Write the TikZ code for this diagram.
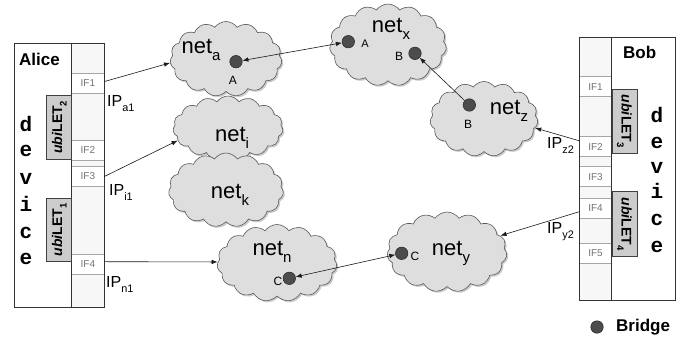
\documentclass[tikz,border=0pt]{standalone}
\usepackage{fontspec}
\setmainfont{Liberation Sans}
\newfontfamily\monob{Liberation Mono}
\usetikzlibrary{shapes.symbols,shadows,arrows.meta}
\newcommand\lsub[1]{\raisebox{-0.32em}{\scalebox{0.68}{#1}}}
\tikzset{
  cloudn/.style={cloud, cloud puffs=15, cloud puff arc=110, cloud ignores aspect,
    draw=black!65, fill=black!13, line width=0.6pt, inner sep=0pt,
    drop shadow={shadow xshift=1.6pt, shadow yshift=-1.6pt, fill=black!40}},
  netlbl/.style={font=\fontsize{22}{22}\selectfont, inner sep=0pt},
  dot/.style={circle, fill=black!70, draw=black!85, line width=0.5pt, minimum size=12.5pt, inner sep=0pt},
  small/.style={font=\fontsize{12}{12}\selectfont, inner sep=0pt},
  arr/.style={-{Latex[length=6pt,width=4.5pt]}, line width=0.6pt, black!90},
  darr/.style={{Latex[length=6pt,width=4.5pt]}-{Latex[length=6pt,width=4.5pt]}, line width=0.6pt, black!90},
  ifcell/.style={draw=black!35, fill=white, line width=0.5pt, minimum width=32.4pt, minimum height=20pt,
    inner sep=0pt, text=black!55, font=\fontsize{10}{10}\selectfont},
  devbox/.style={draw=black!80, line width=0.7pt},
  ifcol/.style={draw=black!80, fill=black!3, line width=0.7pt},
  letbox/.style={draw=black!75, fill=black!20, line width=0.6pt, inner sep=0pt, minimum height=25pt,
    font=\fontsize{14}{14}\selectfont\bfseries},
  devl/.style={font=\fontsize{21}{21}\selectfont\monob\bfseries, anchor=base, inner sep=0pt},
  iplbl/.style={font=\fontsize{16}{16}\selectfont, anchor=base west, inner sep=0pt},
  namelbl/.style={font=\fontsize{17}{17}\selectfont\bfseries, anchor=base west, inner sep=0pt}
}
\begin{document}
\begin{tikzpicture}[x=1pt,y=-1pt]
\useasboundingbox (0,0) rectangle (681,338);

% ---------------- Alice ----------------
\draw[devbox, fill=white] (14,43.3) rectangle (71.7,307);
\draw[ifcol] (71.7,43.3) rectangle (104,307);
\node[ifcell] (aif1) at (87.85,83.3) {IF1};
\node[ifcell] (aif2) at (87.85,150) {IF2};
\node[ifcell] (aif3) at (87.85,176.5) {IF3};
\node[ifcell] (aif4) at (87.85,264) {IF4};
\draw[ifcol, fill=none] (71.7,43.3) rectangle (104,307);
\node[namelbl] (alice) at (19,65) {Alice};
\node[letbox, minimum width=64.3pt, rotate=90] (ulet2) at (59.2,127.2) {\textit{ubi}LET\lsub{2}};
\node[letbox, minimum width=63.4pt, rotate=90] (ulet1) at (59.2,230) {\textit{ubi}LET\lsub{1}};
\node[devl] (ad1) at (26,131) {d};
\node[devl] (ad2) at (26,156) {e};
\node[devl] (ad3) at (26,184) {v};
\node[devl] (ad4) at (26,211) {i};
\node[devl] (ad5) at (26,238) {c};
\node[devl] (ad6) at (26,264) {e};

% ---------------- Bob ----------------
\draw[devbox, fill=white] (611.7,37.3) rectangle (675,300.7);
\draw[ifcol] (579.3,37.3) rectangle (611.7,300.7);
\node[ifcell] (bif1) at (595.5,86.7) {IF1};
\node[ifcell] (bif2) at (595.5,146.7) {IF2};
\node[ifcell] (bif3) at (595.5,176.7) {IF3};
\node[ifcell] (bif4) at (595.5,208.3) {IF4};
\node[ifcell] (bif5) at (595.5,253.3) {IF5};
\draw[ifcol, fill=none] (579.3,37.3) rectangle (611.7,300.7);
\node[namelbl] (bob) at (623,58.3) {Bob};
\node[letbox, minimum width=64pt, rotate=-90] (ulet3) at (624.5,121.3) {\textit{ubi}LET\lsub{3}};
\node[letbox, minimum width=65pt, rotate=-90] (ulet4) at (624.5,224.2) {\textit{ubi}LET\lsub{4}};
\node[devl] (bd1) at (657,122) {d};
\node[devl] (bd2) at (657,148) {e};
\node[devl] (bd3) at (657,173) {v};
\node[devl] (bd4) at (657,198) {i};
\node[devl] (bd5) at (657,225) {c};
\node[devl] (bd6) at (657,252) {e};

% ---------------- clouds ----------------
\node[cloudn, minimum width=112pt, minimum height=75pt] (na) at (226,59) {};
\node[cloudn, minimum width=117pt, minimum height=82pt] (nx) at (388,45) {};
\node[cloudn, minimum width=110pt, minimum height=64pt] (ni) at (228,128) {};
\node[cloudn, minimum width=115pt, minimum height=74pt] (nk) at (226,190) {};
\node[cloudn, minimum width=120pt, minimum height=77pt] (nn) at (277,263) {};
\node[cloudn, minimum width=120pt, minimum height=80pt] (ny) at (447,252) {};
\node[cloudn, minimum width=108pt, minimum height=75pt] (nz) at (484,119) {};

\node[netlbl] (lna) at (201,50) {net\lsub{a}};
\node[netlbl] (lnx) at (391,29) {net\lsub{x}};
\node[netlbl] (lni) at (232,138) {net\lsub{i}};
\node[netlbl] (lnk) at (230,195) {net\lsub{k}};
\node[netlbl] (lnn) at (272,252) {net\lsub{n}};
\node[netlbl] (lny) at (451,253) {net\lsub{y}};
\node[netlbl] (lnz) at (509,111) {net\lsub{z}};

% bridges
\node[dot] (da) at (236,61.7) {};
\node[small] (lda) at (233,80) {A};
\node[dot] (dxa) at (348.3,41.7) {};
\node[small, font=\fontsize{11}{11}\selectfont] (ldxa) at (365,43.5) {A};
\node[dot] (dxb) at (415,53.3) {};
\node[small] (ldxb) at (399,56.5) {B};
\node[dot] (dzb) at (469.3,105) {};
\node[small] (ldzb) at (468,124.5) {B};
\node[dot] (dnc) at (289.3,278.3) {};
\node[small] (ldnc) at (278,281) {C};
\node[dot] (dyc) at (401.7,253.3) {};
\node[small] (ldyc) at (415,256) {C};

% ---------------- connectors ----------------
\draw[arr] (aif1.6) -- (na.184);
\draw[arr] (aif3.east) -- (ni.194);
\draw[arr] (aif4.8) -- (nn.179);
\draw[arr] (bif2.160) -- (nz.350);
\draw[arr] (bif4.192) -- (ny.17);
\draw[darr] (da) -- (dxa);
\draw[arr] (dzb) -- (dxb);
\draw[darr] (dnc) -- (dyc);

\node[iplbl] (ipa) at (107,106) {IP\lsub{a1}};
\node[iplbl] (ipi) at (109,195) {IP\lsub{i1}};
\node[iplbl] (ipn) at (106,287) {IP\lsub{n1}};
\node[iplbl] (ipz) at (547,148) {IP\lsub{z2}};
\node[iplbl] (ipy) at (547,233) {IP\lsub{y2}};

% legend
\node[dot] (ldot) at (597,327) {};
\node[font=\fontsize{17}{17}\selectfont\bfseries, anchor=west, inner sep=0pt] (lbridge) at (616,327) {Bridge};
\end{tikzpicture}
\end{document}
